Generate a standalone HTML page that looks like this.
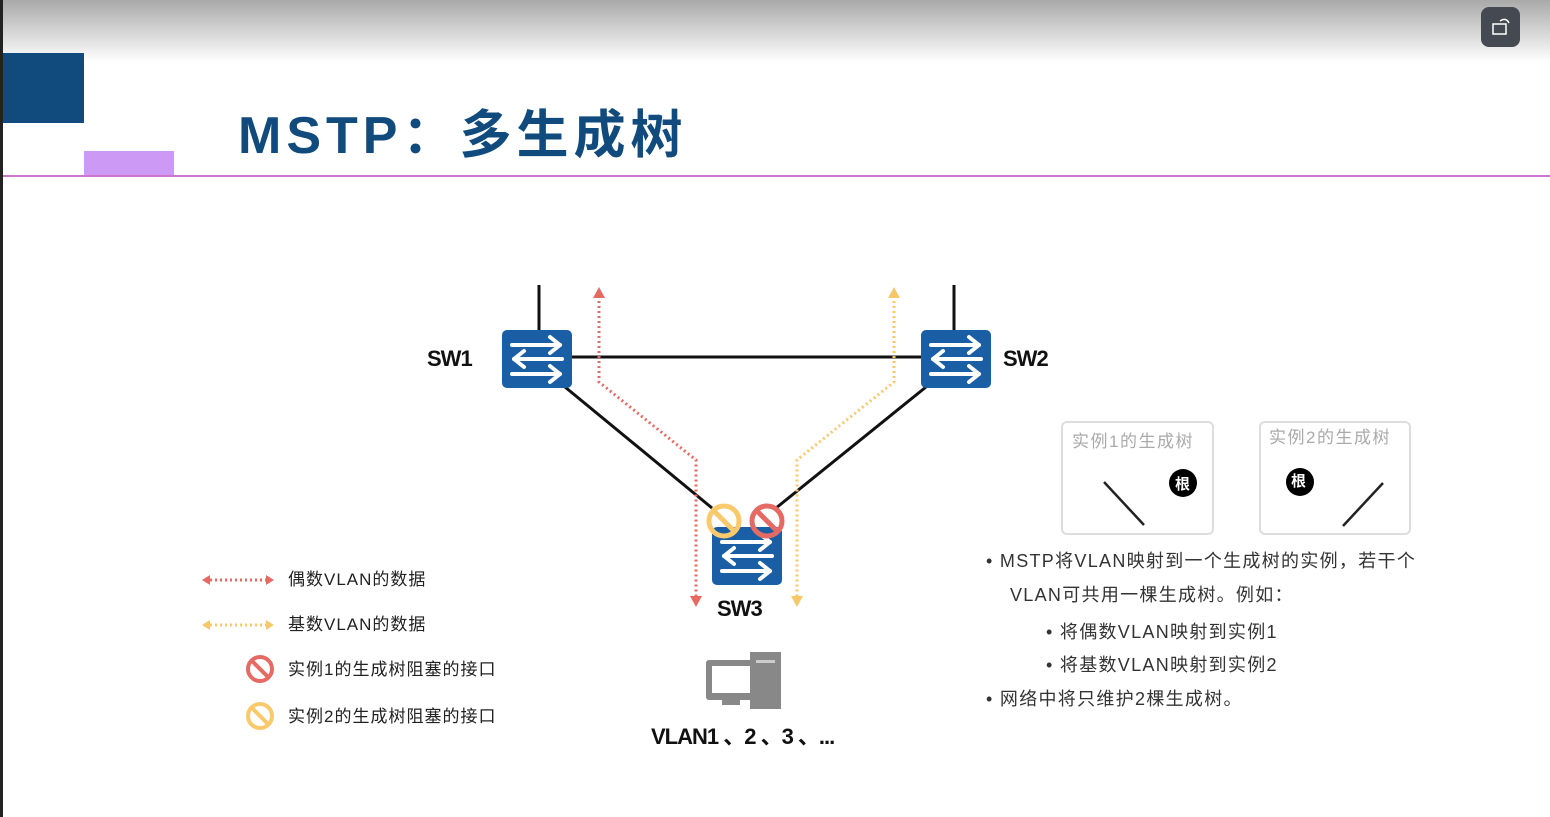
<!DOCTYPE html>
<html><head><meta charset="utf-8"><style>
html,body{margin:0;padding:0;background:#fff;}
body{width:1550px;height:817px;overflow:hidden;position:relative;font-family:"Liberation Sans","Noto Sans CJK SC",sans-serif;}
</style></head><body>
<svg width="1550" height="817" viewBox="0 0 1550 817" xmlns="http://www.w3.org/2000/svg" style="position:absolute;left:0;top:0">
<defs>
<linearGradient id="g" x1="0" y1="0" x2="0" y2="1">
<stop offset="0" stop-color="#a9a9a9"/><stop offset="1" stop-color="#ffffff"/></linearGradient>
<g id="sw">
<rect x="0" y="0" width="70" height="58" rx="5" fill="#1a5fa5"/>
<g stroke="#fff" stroke-width="4" fill="none" stroke-linecap="round" stroke-linejoin="round">
<line x1="10" y1="15" x2="58" y2="15"/><polyline points="48,7 58,15 48,23"/>
<line x1="12" y1="29" x2="60" y2="29"/><polyline points="22,21 12,29 22,37"/>
<line x1="10" y1="44" x2="58" y2="44"/><polyline points="48,36 58,44 48,52"/>
</g></g>
<g id="blk">
<circle r="15" fill="none" stroke-width="5"/>
<line x1="-10" y1="-10" x2="10" y2="10" stroke-width="5"/>
</g>
</defs>
<rect x="0" y="0" width="1550" height="62" fill="url(#g)"/>
<rect x="0" y="0" width="3" height="817" fill="#222"/>
<rect x="3" y="53" width="81" height="70" fill="#114a7c"/>
<rect x="84" y="151" width="90" height="25" fill="#cc99f5"/>
<rect x="3" y="175" width="1547" height="2" fill="#cc77cc"/>
<text x="238" y="153" font-size="52" font-weight="bold" fill="#114a7c" letter-spacing="5">MSTP：多生成树</text>
<rect x="1481" y="7" width="39" height="40" rx="8" fill="#454a52"/>
<rect x="1493" y="24" width="13" height="10" fill="none" stroke="#fff" stroke-width="1.5"/>
<path d="M1500 21 Q1506 17 1509 23" fill="none" stroke="#fff" stroke-width="1.5"/>

<g stroke="#111" stroke-width="3" fill="none">
<line x1="539" y1="285" x2="539" y2="332"/>
<line x1="954" y1="285" x2="954" y2="332"/>
<line x1="570" y1="357" x2="923" y2="357"/>
<line x1="565" y1="387" x2="712" y2="508"/>
<line x1="926" y1="387" x2="776" y2="508"/>
</g>
<g fill="none" stroke-width="3" stroke-dasharray="2 3">
<polyline points="599,296 599,382 696,460 696,600" stroke="#e56a63"/>
<polyline points="894,296 894,382 797,460 797,600" stroke="#f7c86a"/>
</g>
<path d="M593 298 L599 287 L605 298Z M690 596 L696 607 L702 596Z" fill="#e56a63"/>
<path d="M888 298 L894 287 L900 298Z M791 596 L797 607 L803 596Z" fill="#f7c86a"/>
<use href="#sw" x="502" y="330"/>
<use href="#sw" x="921" y="330"/>
<use href="#sw" x="712" y="527"/>
<use href="#blk" x="724" y="521" stroke="#f9c96b"/>
<use href="#blk" x="767" y="521" stroke="#e56a63"/>
<g font-weight="bold" font-size="22" fill="#111" letter-spacing="-1">
<text x="427" y="366">SW1</text>
<text x="1003" y="366">SW2</text>
<text x="717" y="616">SW3</text>
<text x="651" y="744">VLAN1 、2 、3 、...</text>
</g>
<!-- PC -->
<rect x="706" y="660" width="50" height="40" rx="3" fill="#888"/>
<rect x="712" y="666" width="38" height="27" fill="#fff"/>
<rect x="722" y="700" width="18" height="5" fill="#888"/>
<rect x="750" y="652" width="31" height="57" fill="#888"/>
<rect x="756" y="660" width="19" height="3" fill="#ccc"/>
<!-- legend -->
<g font-size="17" fill="#222" letter-spacing="1">
<text x="288" y="585">偶数VLAN的数据</text>
<text x="288" y="630">基数VLAN的数据</text>
<text x="288" y="675">实例1的生成树阻塞的接口</text>
<text x="288" y="722">实例2的生成树阻塞的接口</text>
</g>
<line x1="210" y1="580" x2="266" y2="580" stroke="#e56a63" stroke-width="3" stroke-dasharray="2 3"/>
<path d="M210 575 L202 580 L210 585Z M266 575 L274 580 L266 585Z" fill="#e56a63"/>
<line x1="210" y1="625" x2="266" y2="625" stroke="#f7c86a" stroke-width="3" stroke-dasharray="2 3"/>
<path d="M210 620 L202 625 L210 630Z M266 620 L274 625 L266 630Z" fill="#f7c86a"/>
<g transform="translate(260,669) scale(0.8)"><use href="#blk" stroke="#e56a63"/></g>
<g transform="translate(260,716) scale(0.8)"><use href="#blk" stroke="#f9c96b"/></g>
<!-- instance boxes -->
<rect x="1062" y="422" width="151" height="112" rx="5" fill="#fff" stroke="#ddd" stroke-width="2"/>
<rect x="1260" y="422" width="150" height="112" rx="5" fill="#fff" stroke="#ddd" stroke-width="2"/>
<g font-size="17" fill="#aaa" letter-spacing="1.5">
<text x="1072" y="447">实例1的生成树</text>
<text x="1269" y="443">实例2的生成树</text>
</g>
<line x1="1104" y1="482" x2="1144" y2="525" stroke="#222" stroke-width="2.5"/>
<line x1="1383" y1="483" x2="1343" y2="526" stroke="#222" stroke-width="2.5"/>
<circle cx="1183" cy="483" r="14" fill="#000"/>
<circle cx="1300" cy="482" r="14" fill="#000"/>
<g font-size="15" font-weight="bold" fill="#fff">
<text x="1175" y="489">根</text><text x="1291" y="486">根</text>
</g>
<g font-size="18" fill="#333" letter-spacing="1.3">
<text x="986" y="567">• MSTP将VLAN映射到一个生成树的实例，若干个</text>
<text x="1010" y="601">VLAN可共用一棵生成树。例如：</text>
<text x="1046" y="638">•  将偶数VLAN映射到实例1</text>
<text x="1046" y="671">•  将基数VLAN映射到实例2</text>
<text x="986" y="705">•  网络中将只维护2棵生成树。</text>
</g>
</svg>
</body></html>
